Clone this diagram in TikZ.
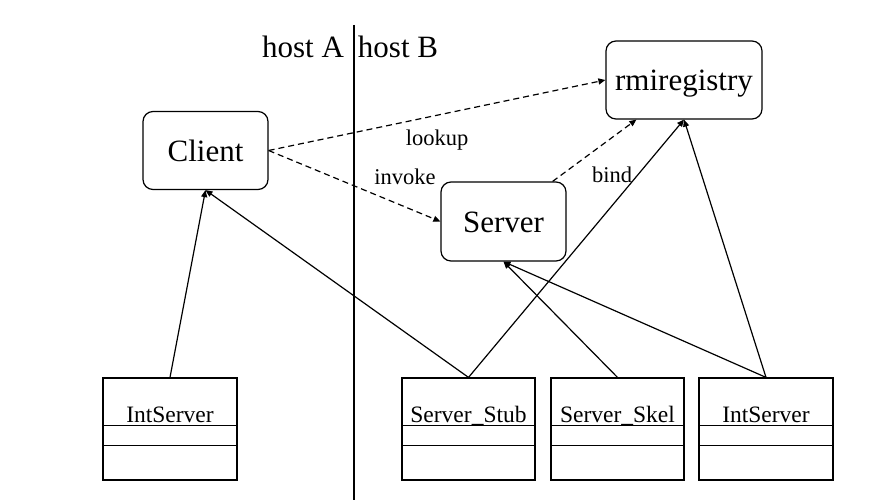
\documentclass[tikz,border=0pt]{standalone}
\usepackage{fontspec}
\setmainfont{Liberation Serif}
\usetikzlibrary{arrows.meta,calc}
\begin{document}
\begin{tikzpicture}[x=1pt,y=-1pt,
  lw/.style={line width=1.2pt},
  rbox/.style={draw,lw,rounded corners=10pt,minimum width=125pt,minimum height=78pt,inner sep=0pt,text height=22pt,text depth=0pt,font=\fontsize{31}{36}\selectfont},
  cbox/.style={draw,lw,minimum width=134pt,minimum height=102pt,inner sep=0pt},
  ctext/.style={anchor=base,font=\fontsize{23.5}{28}\selectfont,inner sep=0pt},
  lbl/.style={font=\fontsize{22.5}{27}\selectfont,inner sep=0pt},
  host/.style={anchor=base,font=\fontsize{31}{36}\selectfont,inner sep=0pt},
  conn/.style={lw,-{Triangle[length=7pt,width=6pt]}},
  dconn/.style={conn,dash pattern=on 6pt off 4pt},
]
\useasboundingbox (0,0) rectangle (882,500);

% host separator
\draw[lw] (354,25) -- (354,500);
\node[host] (ha) at (303,58) {host A};
\node[host] (hb) at (398,58) {host B};

% rounded boxes
\node[rbox] (client) at (205.5,150.5) {Client};
\node[rbox,minimum width=156pt] (rmi) at (684,80) {rmiregistry};
\node[rbox,minimum height=79pt] (srv) at (503.5,221.5) {Server};

% class boxes
\node[cbox] (is1) at (170,429) {};
\node[cbox,minimum width=133pt] (stub) at (468.5,429) {};
\node[cbox,minimum width=133pt] (skel) at (617.5,429) {};
\node[cbox] (is2) at (766,429) {};
\foreach \b in {is1,stub,skel,is2}{
  \draw[lw] ([yshift=-48pt]\b.north west) -- ([yshift=-48pt]\b.north east);
  \draw[lw] ([yshift=-68pt]\b.north west) -- ([yshift=-68pt]\b.north east);
}
\node[ctext] (t1) at ([yshift=-45pt]is1.north) {IntServer};
\node[ctext] (t2) at ([yshift=-45pt]stub.north) {Server\_Stub};
\node[ctext] (t3) at ([yshift=-45pt]skel.north) {Server\_Skel};
\node[ctext] (t4) at ([yshift=-45pt]is2.north) {IntServer};

% solid connectors
\draw[conn] (is1.north) -- (client.south);
\draw[conn] (stub.north) -- (client.south);
\draw[conn] (stub.north) -- (rmi.south);
\draw[conn] (skel.north) -- (srv.south);
\draw[conn] (is2.north) -- (srv.south);
\draw[conn] (is2.north) -- (rmi.south);

% dashed connectors
\draw[dconn] (client.east) -- (rmi.west);
\draw[dconn] (client.east) -- (srv.west);
\draw[dconn] ([xshift=-14pt]srv.north east) -- ([xshift=31pt]rmi.south west);

% labels
\node[lbl] (lk) at (437,140) {lookup};
\node[lbl] (iv) at (405,177) {invoke};
\node[lbl] (bd) at (612,174.5) {bind};
\end{tikzpicture}
\end{document}
